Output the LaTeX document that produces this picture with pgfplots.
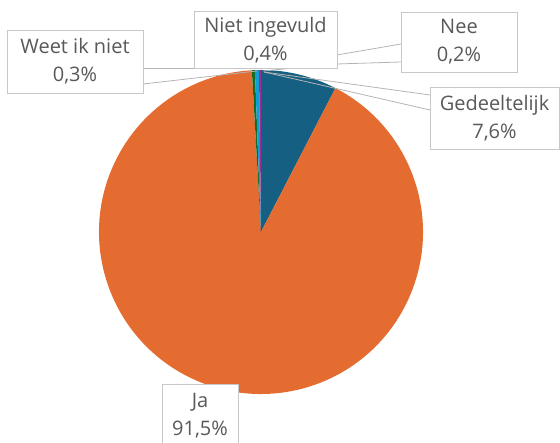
\documentclass[border=0pt]{standalone}
\usepackage{pgfplots}
\usepackage{pgfplotstable}
\pgfplotsset{compat=1.18}
\usepackage{fontspec}
\setmainfont{Open Sans}
\definecolor{cGed}{HTML}{156082}
\definecolor{cJa}{HTML}{E46C30}
\definecolor{cWeet}{HTML}{196B24}
\definecolor{cNiet}{HTML}{0F9ED5}
\definecolor{cNee}{HTML}{A02B93}
\definecolor{txt}{HTML}{595959}
\definecolor{boxc}{HTML}{C8C8C8}
\definecolor{lead}{HTML}{B4B4B4}

% slices clockwise from 12 o'clock
\pgfplotstableread[col sep=comma]{
label,value,color
Gedeeltelijk,7.6,cGed
Ja,91.5,cJa
Weet ik niet,0.3,cWeet
Niet ingevuld,0.4,cNiet
Nee,0.2,cNee
}\piedata

\begin{document}
\begin{tikzpicture}
\xdef\cum{0}
\foreach \i in {0,...,4}{
  \pgfplotstablegetelem{\i}{value}\of\piedata
  \pgfmathsetmacro\a{90-3.6*\cum}
  \pgfmathsetmacro\b{90-3.6*(\cum+\pgfplotsretval)}
  \pgfmathsetmacro\c{\cum+\pgfplotsretval}
  \expandafter\xdef\csname pieA\i\endcsname{\a}
  \expandafter\xdef\csname pieB\i\endcsname{\b}
  \xdef\cum{\c}
  \pgfplotstablegetelem{\i}{color}\of\piedata
  \expandafter\xdef\csname pieC\i\endcsname{\pgfplotsretval}
}
\begin{axis}[
  name=ax,
  x=1pt, y=1pt,
  xmin=0, xmax=560, ymin=0, ymax=443,
  hide axis,
  clip=true,
  font=\fontsize{20}{28}\selectfont,
]
\def\cx{261}\def\cy{211}\def\r{162}
\pgfplotsinvokeforeach{0,...,4}{
  \edef\temp{\noexpand\fill[\csname pieC#1\endcsname]
    (axis cs:\cx,\cy) --
    (axis cs:{\cx+\r*cos(\csname pieA#1\endcsname)},{\cy+\r*sin(\csname pieA#1\endcsname)})
    arc[start angle=\csname pieA#1\endcsname, end angle=\csname pieB#1\endcsname, radius=\r pt] -- cycle;}
  \temp
}
% leader lines
\draw[lead, line width=0.8pt] (axis cs:143,359) -- (axis cs:257,372);
\draw[lead, line width=0.8pt] (axis cs:143,375) -- (axis cs:194,375);
\draw[lead, line width=0.8pt] (axis cs:337,388) -- (axis cs:401,399);
\draw[lead, line width=0.8pt] (axis cs:263,372) -- (axis cs:337,379) -- (axis cs:401,381);
\draw[lead, line width=0.8pt] (axis cs:264,371) -- (axis cs:430,348);
\draw[lead, line width=0.8pt] (axis cs:264,371) -- (axis cs:430,333);
% label boxes
\tikzset{lbl/.style={draw=boxc, line width=0.8pt, fill=white, text=txt, align=center, inner sep=0pt}}
\node[lbl, minimum width=136pt, minimum height=63pt] at (axis cs:75,381.5) {Weet ik niet\\0,3\%};
\node[lbl, minimum width=143pt, minimum height=57pt] at (axis cs:265.5,403) {Niet ingevuld\\0,4\%};
\node[lbl, minimum width=116pt, minimum height=60pt] at (axis cs:459,401) {Nee\\0,2\%};
\node[lbl, minimum width=129pt, minimum height=62pt] at (axis cs:494.5,325) {Gedeeltelijk\\7,6\%};
\node[lbl, minimum width=76pt, minimum height=62pt] at (axis cs:200,27.5) {Ja\\91,5\%};
\end{axis}
\pgfresetboundingbox
\path[use as bounding box] (ax.south west) rectangle (ax.north east);
\end{tikzpicture}
\end{document}
